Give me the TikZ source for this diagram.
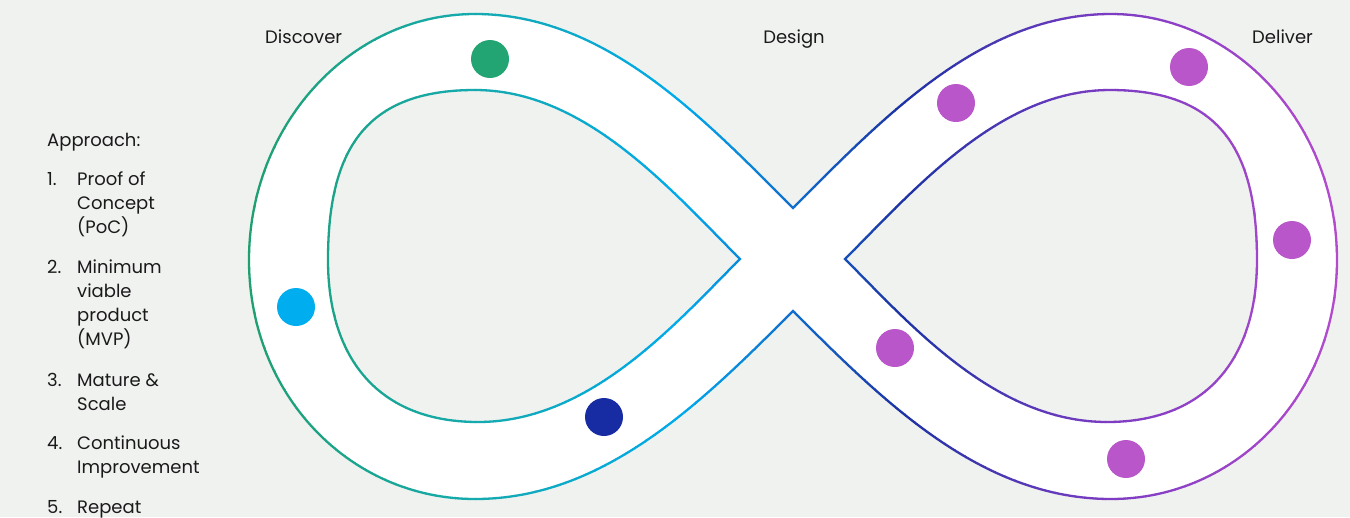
\documentclass[tikz,border=0pt]{standalone}
\usepackage{fontspec}
\setmainfont{Poppins}
\usepackage{tikz}
\definecolor{bg}{HTML}{F0F2F0}
\definecolor{txt}{HTML}{1A1A1A}
\definecolor{cA}{RGB}{31,160,112}
\definecolor{cB}{RGB}{20,170,175}
\definecolor{cC}{RGB}{0,170,235}
\definecolor{cD}{RGB}{18,110,205}
\definecolor{cE}{RGB}{28,50,165}
\definecolor{cF}{RGB}{125,60,195}
\definecolor{cG}{RGB}{180,75,205}
\definecolor{dgreen}{HTML}{22A572}
\definecolor{dcyan}{HTML}{00AEEF}
\definecolor{dnavy}{HTML}{172BA3}
\definecolor{dpurple}{HTML}{B956C9}
\newcommand\outerpath{(793,208) .. controls (703,118) and (605,14) .. (475,14)
 .. controls (350,14) and (249,125) .. (249,260)
 .. controls (249,395) and (350,499) .. (475,499)
 .. controls (605,499) and (703,401) .. (793,311)
 .. controls (883,401) and (981,499) .. (1111,499)
 .. controls (1236,499) and (1337,395) .. (1337,260)
 .. controls (1337,125) and (1236,14) .. (1111,14)
 .. controls (981,14) and (883,118) .. (793,208) -- cycle}
\newcommand\innerLpath{(740,259) .. controls (670,189) and (585,90) .. (475,90)
 .. controls (365,90) and (328,150) .. (328,260)
 .. controls (328,360) and (380,422) .. (478,422)
 .. controls (590,422) and (675,324) .. (740,259) -- cycle}
\newcommand\innerRpath{(845,259) .. controls (915,189) and (1000,90) .. (1110,90)
 .. controls (1220,90) and (1257,150) .. (1257,260)
 .. controls (1257,360) and (1205,422) .. (1107,422)
 .. controls (995,422) and (910,324) .. (845,259) -- cycle}
\newcommand\pickcolor[1]{%
  \pgfmathsetmacro\xm{#1}%
  \ifdim\xm pt<475pt
    \pgfmathsetmacro\pp{max(0,min(100,(475-\xm)/(475-249)*100))}\colorlet{sc}{cA!\pp!cB}%
  \else\ifdim\xm pt<680pt
    \pgfmathsetmacro\pp{(680-\xm)/(680-475)*100}\colorlet{sc}{cB!\pp!cC}%
  \else\ifdim\xm pt<793pt
    \pgfmathsetmacro\pp{(793-\xm)/(793-680)*100}\colorlet{sc}{cC!\pp!cD}%
  \else\ifdim\xm pt<900pt
    \pgfmathsetmacro\pp{(900-\xm)/(900-793)*100}\colorlet{sc}{cD!\pp!cE}%
  \else\ifdim\xm pt<1110pt
    \pgfmathsetmacro\pp{(1110-\xm)/(1110-900)*100}\colorlet{sc}{cE!\pp!cF}%
  \else
    \pgfmathsetmacro\pp{max(0,min(100,(1337-\xm)/(1337-1110)*100))}\colorlet{sc}{cF!\pp!cG}%
  \fi\fi\fi\fi\fi}
\begin{document}
\begin{tikzpicture}[x=1pt,y=-1pt,
  dot/.style={circle,minimum size=38pt,inner sep=0pt,draw=none},
  lbl/.style={anchor=base west,inner sep=0pt,text=txt,font=\fontsize{18}{24}\selectfont},
  toplbl/.style={anchor=base,inner sep=0pt,text=txt,font=\fontsize{18}{24}\selectfont},
  band/.style={line width=2.3pt,line join=miter}]
\useasboundingbox (0,0) rectangle (1350,517);
\fill[bg] (0,0) rectangle (1350,517);
\fill[white] \outerpath;
\fill[bg] \innerLpath;
\fill[bg] \innerRpath;
\foreach \i in {0,...,111}{
  \pgfmathsetmacro\xa{245+\i*10}
  \pgfmathsetmacro\xb{\xa+10.6}
  \pickcolor{\xa+5}
  \begin{scope}
    \clip (\xa,0) rectangle (\xb,517);
    \draw[band,sc] \outerpath;
    \draw[band,sc] \innerLpath;
    \draw[band,sc] \innerRpath;
  \end{scope}
}
% dots
\node[dot,fill=dgreen] (d1) at (490,59) {};
\node[dot,fill=dcyan] (d2) at (296,307) {};
\node[dot,fill=dnavy] (d3) at (604,417) {};
\node[dot,fill=dpurple] (d4) at (956,103) {};
\node[dot,fill=dpurple] (d5) at (1189,67) {};
\node[dot,fill=dpurple] (d6) at (1292,240) {};
\node[dot,fill=dpurple] (d7) at (895,348) {};
\node[dot,fill=dpurple] (d8) at (1126,459) {};
% top labels
\node[lbl] (discover) at (265,43) {Discover};
\node[toplbl] (design) at (794,43) {Design};
\node[lbl] (deliver) at (1252,43) {Deliver};
% list
\node[lbl] (appr) at (47,146) {Approach:};
\node[lbl] (n1) at (47,185) {1.};
\node[lbl] (t1a) at (77,185) {Proof of};
\node[lbl] (t1b) at (77,209) {Concept};
\node[lbl] (t1c) at (77,233) {(PoC)};
\node[lbl] (n2) at (47,273) {2.};
\node[lbl] (t2a) at (77,273) {Minimum};
\node[lbl] (t2b) at (77,297) {viable};
\node[lbl] (t2c) at (77,321) {product};
\node[lbl] (t2d) at (77,345) {(MVP)};
\node[lbl] (n3) at (47,386) {3.};
\node[lbl] (t3a) at (77,386) {Mature \&};
\node[lbl] (t3b) at (77,410) {Scale};
\node[lbl] (n4) at (47,449) {4.};
\node[lbl] (t4a) at (77,449) {Continuous};
\node[lbl] (t4b) at (77,473) {Improvement};
\node[lbl] (n5) at (47,513) {5.};
\node[lbl] (t5a) at (77,513) {Repeat};
\end{tikzpicture}
\end{document}
